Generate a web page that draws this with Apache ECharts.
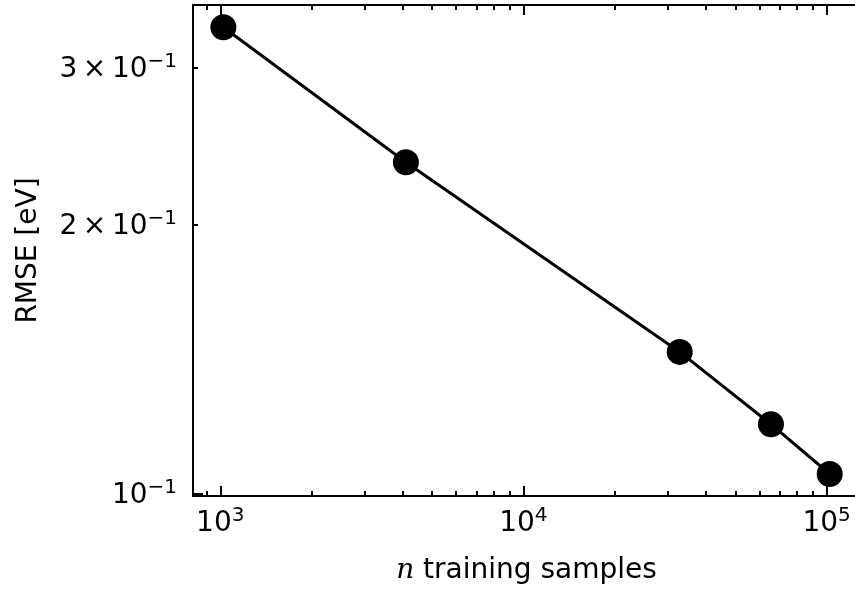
<!DOCTYPE html>
<html>
<head>
<meta charset="utf-8">
<script src="https://cdn.jsdelivr.net/npm/echarts@6/dist/echarts.min.js"></script>
<style>
  html, body { margin: 0; padding: 0; background: #fff; }
  #chart { width: 855px; height: 592px; }
</style>
</head>
<body>
<div id="chart"></div>
<script>
// Learning curve: RMSE against number of training samples (log-log)
const nSamples = [1024, 4096, 32768, 65536, 102400];
const rmse = [0.3328, 0.2350, 0.1441, 0.1196, 0.1052];

// Axis ranges and tick positions
const xRange = [813, 128900];
const yRange = [0.0994, 0.3524];
const xMajorTicks = [1000, 10000, 100000];
const xMinorTicks = [900, 2000, 3000, 4000, 5000, 6000, 7000, 8000, 9000,
                     20000, 30000, 40000, 50000, 60000, 70000, 80000, 90000];
const yMajorTicks = [0.1];
const yMinorTicks = [0.2, 0.3];

const FONT = 'DejaVu Sans';
const FS = 28;

const richStyles = {
  b: { fontFamily: FONT, fontSize: FS, color: '#000', lineHeight: 32, verticalAlign: 'bottom' },
  s: { fontFamily: FONT, fontSize: 20, color: '#000', lineHeight: 22, verticalAlign: 'top' }
};

function xLabel(v) {
  return '{b|10}{s|' + Math.round(Math.log10(v)) + '}';
}
function yLabel(v) {
  const p = Math.floor(Math.log10(v) + 1e-9);
  const m = Math.round(v / Math.pow(10, p));
  const exp = p < 0 ? '\u2212' + (-p) : String(p);
  return (m === 1 ? '{b|10}' : '{b|' + m + '\u2009\u00d7\u200910}') + '{s|' + exp + '}';
}

function xAxisDef(position, ticks, len, showLine, showLabels) {
  return {
    type: 'log', logBase: 10, position: position,
    min: xRange[0], max: xRange[1],
    axisLine: { show: showLine, onZero: false, lineStyle: { color: '#000', width: 2 } },
    axisTick: { show: true, inside: true, length: len, customValues: ticks,
                lineStyle: { color: '#000', width: 2 } },
    axisLabel: { show: showLabels, customValues: ticks, margin: 10,
                 formatter: xLabel, rich: richStyles },
    splitLine: { show: false },
    minorTick: { show: false }
  };
}
function yAxisDef(position, ticks, len, showLine, showLabels) {
  return {
    type: 'log', logBase: 10, position: position,
    min: yRange[0], max: yRange[1],
    axisLine: { show: showLine, onZero: false, lineStyle: { color: '#000', width: 2 } },
    axisTick: { show: true, inside: true, length: len, customValues: ticks,
                lineStyle: { color: '#000', width: 2 } },
    axisLabel: { show: showLabels, customValues: ticks, margin: 16,
                 formatter: yLabel, rich: richStyles },
    splitLine: { show: false },
    minorTick: { show: false }
  };
}

const xMain = xAxisDef('bottom', xMajorTicks, 10, true, true);
xMain.name = '{i|n} training samples';
xMain.nameLocation = 'middle';
xMain.nameGap = 61;
xMain.nameTextStyle = {
  fontFamily: FONT, fontSize: FS, color: '#000',
  rich: {
    i: { fontFamily: 'DejaVu Serif', fontStyle: 'italic', fontSize: FS, color: '#000' }
  }
};

const yMain = yAxisDef('left', yMajorTicks, 10, true, true);
yMain.name = 'RMSE [eV]';
yMain.nameLocation = 'middle';
yMain.nameGap = 150;
yMain.nameTextStyle = { fontFamily: FONT, fontSize: FS, color: '#000' };

const chart = echarts.init(document.getElementById('chart'), null, { renderer: 'canvas' });
chart.setOption({
  animation: false,
  backgroundColor: '#fff',
  // the frame's right edge lies just beyond the visible area
  grid: { left: 193, top: 5, right: -5, bottom: 96, containLabel: false, outerBoundsMode: 'none' },
  xAxis: [
    xMain,
    xAxisDef('bottom', xMinorTicks, 5, false, false),
    xAxisDef('top', xMajorTicks, 10, true, false),
    xAxisDef('top', xMinorTicks, 5, false, false)
  ],
  yAxis: [
    yMain,
    yAxisDef('left', yMinorTicks, 5, false, true)
  ],
  series: [{
    type: 'line',
    xAxisIndex: 0,
    yAxisIndex: 0,
    data: nSamples.map((n, i) => [n, rmse[i]]),
    symbol: 'circle',
    symbolSize: 26,
    lineStyle: { color: '#000', width: 3 },
    itemStyle: { color: '#000' },
    clip: false
  }]
});
</script>
</body>
</html>
